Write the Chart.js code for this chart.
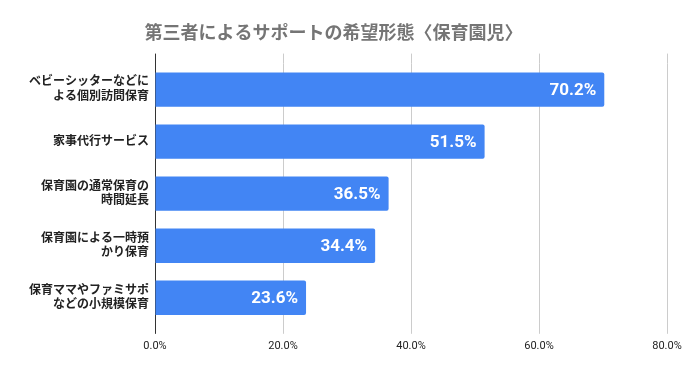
<!DOCTYPE html>
<html>
<head>
<meta charset="utf-8">
<script src="https://cdn.jsdelivr.net/npm/chart.js@4"></script>
<style>
  html, body { margin: 0; padding: 0; background: #fff; }
  #wrap { width: 684px; height: 371px; }
</style>
</head>
<body>
<div id="wrap"><canvas id="chart"></canvas></div>
<script>
// data
var categories = [
    ['ベビーシッターなどに', 'よる個別訪問保育'],
    ['家事代行サービス'],
    ['保育園の通常保育の', '時間延長'],
    ['保育園による一時預', 'かり保育'],
    ['保育ママやファミサポ', 'などの小規模保育']
];
var values = [70.2, 51.5, 36.5, 34.4, 23.6];
var xTicks = [0, 20, 40, 60, 80];

var fontFam = 'Roboto, "Noto Sans CJK JP", sans-serif';
var gridExt = 10;

// value labels at the end of the bars
var barLabels = {
    id: 'barLabels',
    afterDatasetsDraw: function(chart) {
        var ctx = chart.ctx;
        var meta = chart.getDatasetMeta(0);
        ctx.save();
        ctx.font = 'bold 17px ' + fontFam;
        ctx.fillStyle = '#ffffff';
        ctx.textAlign = 'right';
        ctx.textBaseline = 'middle';
        meta.data.forEach(function(bar, i) {
            ctx.fillText(values[i].toFixed(1) + '%', bar.x - 8, bar.y + 1);
        });
        ctx.restore();
    }
};

// gridlines run a bit past the bar band, like the original
var gridTop = {
    id: 'gridTop',
    beforeDatasetsDraw: function(chart) {
        var ctx = chart.ctx;
        var area = chart.chartArea;
        var xs = chart.scales.x;
        ctx.save();
        ctx.lineWidth = 1;
        xTicks.forEach(function(v) {
            var px = Math.round(xs.getPixelForValue(v)) + 0.5;
            ctx.strokeStyle = v === 0 ? '#333333' : '#cccccc';
            ctx.beginPath();
            ctx.moveTo(px, area.top - gridExt);
            ctx.lineTo(px, v === 0 ? area.bottom + gridExt : area.top);
            ctx.stroke();
        });
        ctx.restore();
    }
};

var config = {
    type: 'bar',
    data: {
        labels: categories,
        datasets: [{
            data: values,
            backgroundColor: '#4285f4',
            borderRadius: 2,
            borderSkipped: 'start',
            categoryPercentage: 0.66,
            barPercentage: 1.0
        }]
    },
    options: {
        indexAxis: 'y',
        responsive: true,
        maintainAspectRatio: false,
        animation: false,
        layout: { padding: { left: 0, right: 17, top: 0, bottom: 12 } },
        plugins: {
            legend: { display: false },
            tooltip: { enabled: false },
            title: {
                display: true,
                text: '第三者によるサポートの希望形態〈保育園児〉',
                color: '#757575',
                font: { family: fontFam, size: 18, weight: 'bold' },
                padding: { top: 24, bottom: 18 }
            }
        },
        scales: {
            x: {
                min: 0,
                max: 80,
                afterBuildTicks: function(axis) {
                    axis.ticks = xTicks.map(function(v) { return { value: v }; });
                },
                afterFit: function(axis) { axis.paddingRight = 0; axis.paddingLeft = 0; },
                ticks: {
                    color: '#222222',
                    font: { family: fontFam, size: 11 },
                    padding: 6,
                    callback: function(v) { return v.toFixed(1) + '%'; }
                },
                grid: { color: '#cccccc', drawTicks: true, tickLength: gridExt },
                border: { display: false }
            },
            y: {
                afterFit: function(axis) { axis.width = 155; },
                ticks: {
                    color: '#222222',
                    font: { family: fontFam, size: 12, weight: 'bold' },
                    padding: 6
                },
                grid: { display: false, drawTicks: false },
                border: { color: '#333333', width: 1 }
            }
        }
    },
    plugins: [gridTop, barLabels]
};

var myChart = new Chart(document.getElementById('chart'), config);
</script>
</body>
</html>
